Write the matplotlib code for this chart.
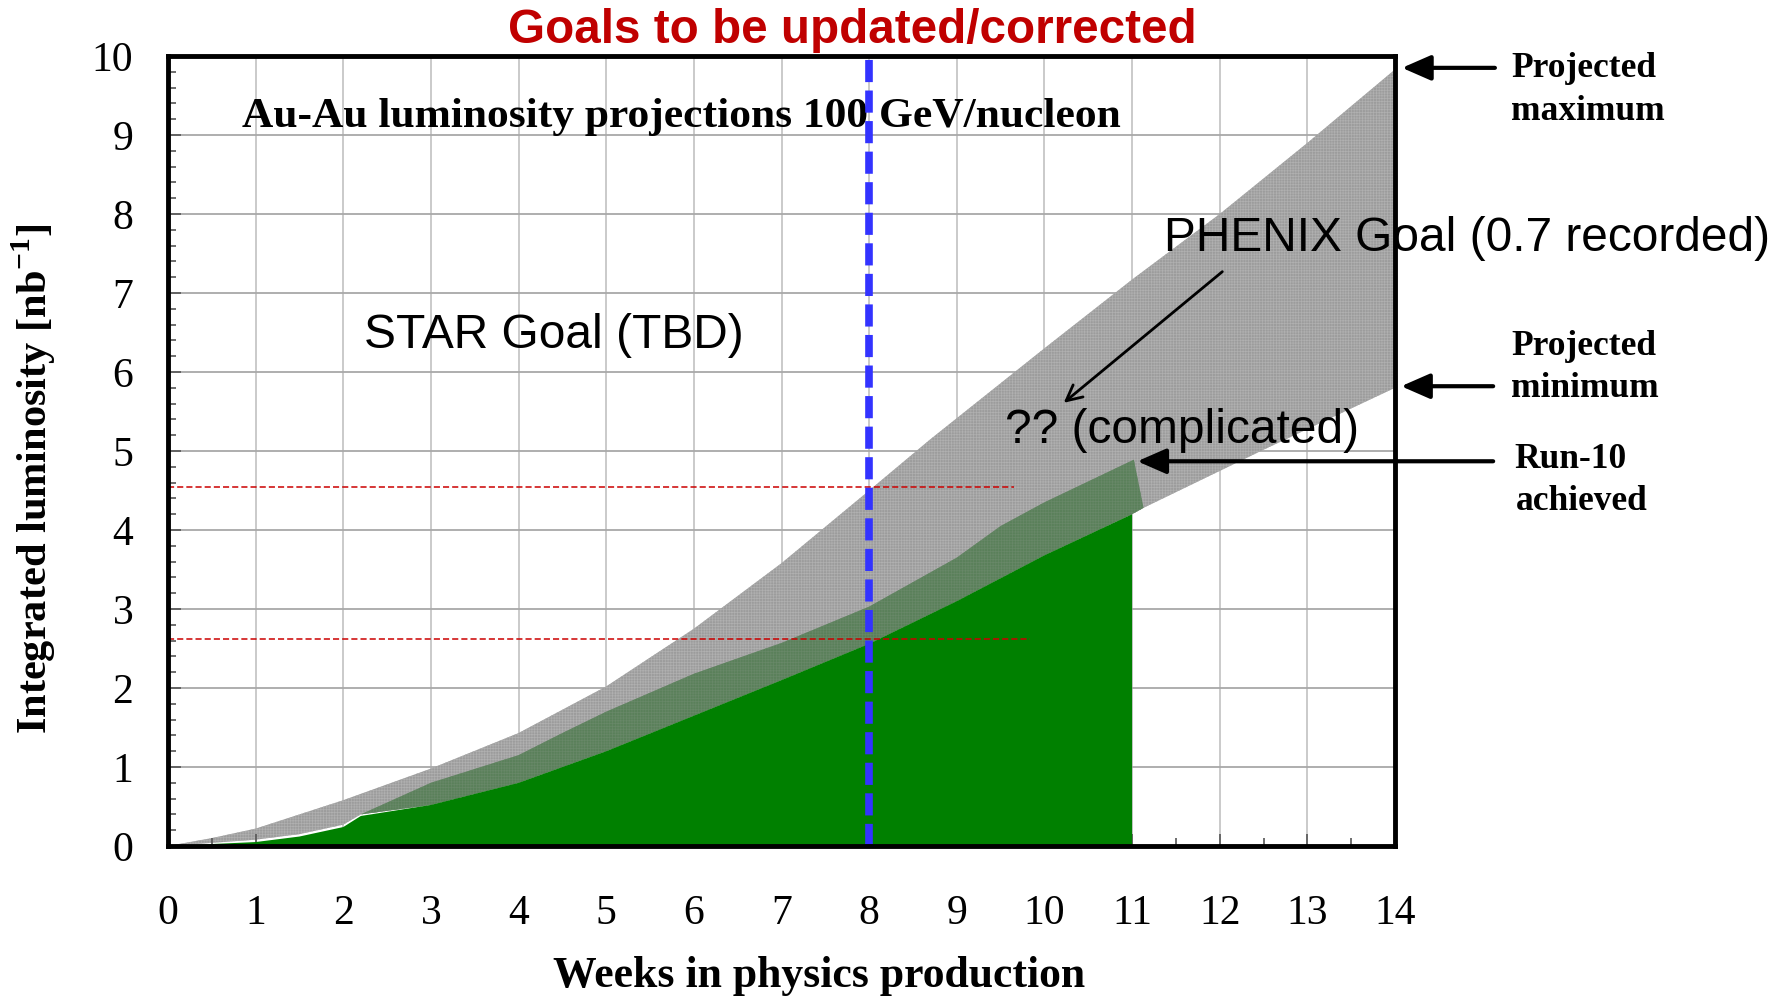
import matplotlib
matplotlib.use("Agg")
import matplotlib.pyplot as plt
import numpy as np

# ---------------- data ----------------
weeks_max = [0, 0.5, 1, 2, 3, 4, 5, 6, 7, 8, 8.7, 10, 11, 12, 13, 14]
lumi_max = [0, 0.1, 0.22, 0.58, 0.98, 1.43, 2.02, 2.75, 3.58, 4.5, 5.15, 6.3, 7.17, 8.0, 8.9, 9.83]

weeks_min = [0, 1, 1.5, 2, 2.2, 3, 4, 5, 6, 7, 8, 9, 10, 11, 11.13, 12.47, 14]
lumi_min = [0, 0.08, 0.15, 0.27, 0.4, 0.52, 0.8, 1.2, 1.65, 2.1, 2.56, 3.1, 3.68, 4.2, 4.28, 5.0, 5.8]

weeks_run10 = [2.0, 2.2, 3, 4, 4.5, 5, 6, 7, 8, 9, 9.5, 10, 11.02, 11.13]
lumi_run10 = [0.25, 0.4, 0.8, 1.15, 1.43, 1.7, 2.18, 2.57, 3.03, 3.65, 4.05, 4.35, 4.89, 4.28]

weeks_green = [0, 1, 1.5, 2, 2.2, 3, 4, 5, 6, 7, 8, 9, 10, 11]
lumi_green = [0, 0.05, 0.12, 0.24, 0.38, 0.52, 0.8, 1.2, 1.65, 2.1, 2.56, 3.1, 3.68, 4.2]

goal_levels = [4.54, 2.62]
goal_ends = [9.65, 9.84]
cut_week = 8

x_ticks = list(range(0, 15))
y_ticks = list(range(0, 11))

title = "Goals to be updated/corrected"
inner_title = "Au-Au luminosity projections 100 GeV/nucleon"
x_label = "Weeks in physics production"
y_label = r"Integrated luminosity [nb$^{\mathbf{-1}}$]"
right_labels = [("Projected", "maximum"), ("Projected", "minimum"), ("Run-10", "achieved")]
star_text = "STAR Goal (TBD)"
phenix_text = "PHENIX Goal (0.7 recorded)"
compl_text = "?? (complicated)"

# ---------------- style ----------------
plt.rcParams["mathtext.fontset"] = "custom"
plt.rcParams["mathtext.rm"] = "Liberation Serif"
plt.rcParams["mathtext.bf"] = "Liberation Serif:bold"
plt.rcParams["hatch.linewidth"] = 0.5
SERIF = "Liberation Serif"
SANS = "Liberation Sans"

W, H = 1783, 998
fig = plt.figure(figsize=(W / 100, H / 100), dpi=100)
x0, x1, ytop, ybot = 168, 1395, 56, 846
ax = fig.add_axes([x0 / W, 1 - ybot / H, (x1 - x0) / W, (ybot - ytop) / H])
ax.set_xlim(0, 14)
ax.set_ylim(0, 10)


def px(x, y):
    return x / W, 1 - y / H


# grid
for xv in x_ticks[1:-1]:
    ax.axvline(xv, color="#c6c6c6", lw=1.3, zorder=0)
for yv in y_ticks[1:-1]:
    ax.axhline(yv, color="#a8a8a8", lw=1.3, zorder=0)

# gray projection band
xs = np.union1d(weeks_max, weeks_min)
ax.fill_between(xs, np.interp(xs, weeks_min, lumi_min), np.interp(xs, weeks_max, lumi_max),
                facecolor="#9c9c9c", edgecolor="#b0b0b0", linewidth=0, hatch="++++++", zorder=1)

# run-10 (dark) region
r_low = np.minimum(np.interp(weeks_run10, weeks_min, lumi_min), lumi_run10)
ax.fill_between(weeks_run10, r_low, lumi_run10, facecolor="#5a805a", edgecolor="#688868",
                linewidth=0, hatch="++++++", zorder=2)

# green region
ax.fill_between(weeks_green, 0, lumi_green, facecolor="#008000", edgecolor="none", zorder=3)

# goal lines
for lv, le in zip(goal_levels, goal_ends):
    ax.plot([0, le], [lv, lv], color="#cc0000", lw=1.1, dashes=(4, 2), zorder=4)

# blue cut line
ax.axvline(cut_week, color="#3333ff", lw=5.5, dashes=(2.9, 1.1), zorder=6)

# axes styling
for s in ax.spines.values():
    s.set_linewidth(3.5)
    s.set_color("black")
    s.set_zorder(7)
ax.set_xticks(x_ticks)
ax.set_yticks(y_ticks)
ax.set_xticks(np.arange(0, 14.01, 0.5), minor=True)
ax.set_yticks(np.arange(0, 10.01, 0.2), minor=True)
ax.tick_params(which="both", direction="in", color="#555555", width=1.2)
ax.tick_params(which="major", length=9)
ax.tick_params(which="minor", length=6)
ax.tick_params(axis="x", which="major", pad=35)
ax.tick_params(axis="y", which="major", pad=25)
ax.set_xticklabels([str(v) for v in x_ticks], fontfamily=SERIF, fontsize=30)
ax.set_yticklabels([str(v) for v in y_ticks], fontfamily=SERIF, fontsize=30)

# texts
fig.text(*px(852, 43), title, color="#c00000", fontfamily=SANS, fontweight="bold",
         fontsize=34.3, ha="center", va="baseline")
ax.text(0.845, 9.10, inner_title, fontfamily=SERIF, fontweight="bold", fontsize=31.3,
        ha="left", va="baseline", zorder=5)
fig.text(*px(819, 987), x_label, fontfamily=SERIF, fontweight="bold", fontsize=31.5,
         ha="center", va="baseline")
fig.text(*px(34, 479), y_label, fontfamily=SERIF, fontweight="bold", fontsize=30.5,
         rotation=90, ha="center", va="center")

ax.text(2.24, 6.31, star_text, fontfamily=SANS, fontsize=34.5, ha="left", va="baseline", zorder=8)
ax.text(11.37, 7.53, phenix_text, fontfamily=SANS, fontsize=34.5, ha="left", va="baseline",
        zorder=8, clip_on=False)
ax.text(9.55, 5.10, compl_text, fontfamily=SANS, fontsize=34.5, ha="left", va="baseline", zorder=8)

ax.annotate("", xy=(10.22, 5.61), xytext=(12.03, 7.27),
            arrowprops=dict(arrowstyle="->", lw=2, color="black", mutation_scale=28,
                            shrinkA=0, shrinkB=0), zorder=8)

# right-side labels
label_pos = [((1511, 77), (1511, 120)), ((1511, 355), (1511, 397)), ((1514, 468), (1516, 510))]
for (l1, l2), (p1, p2) in zip(right_labels, label_pos):
    fig.text(*px(*p1), l1, fontfamily=SERIF, fontweight="bold", fontsize=25.5, va="baseline")
    fig.text(*px(*p2), l2, fontfamily=SERIF, fontweight="bold", fontsize=25.5, va="baseline")

arrow_specs = [((14.08, 9.85), (15.14, 9.85)), ((14.07, 5.82), (15.12, 5.82)),
               ((11.06, 4.87), (15.12, 4.87))]
for head, tail in arrow_specs:
    ax.annotate("", xy=head, xytext=tail, annotation_clip=False,
                arrowprops=dict(arrowstyle="-|>,head_length=0.8,head_width=0.35", lw=3,
                                color="black", mutation_scale=22, shrinkA=0, shrinkB=0),
                zorder=9)

fig.savefig("out.png", dpi=100)
